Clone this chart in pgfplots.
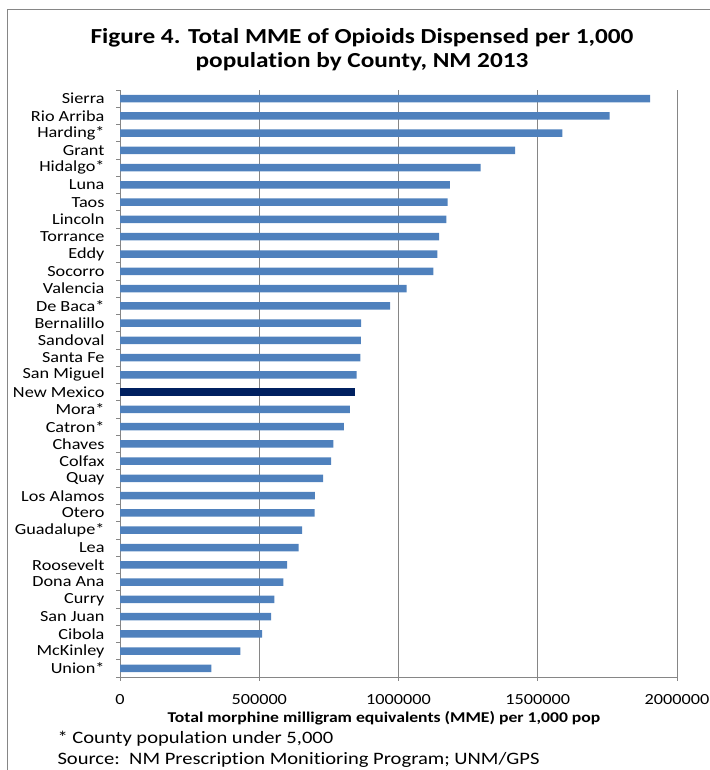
\documentclass[border=0pt]{standalone}
\usepackage{fontspec}
\setmainfont{Carlito}[FakeStretch=1.18, Ligatures={NoCommon}]
\usepackage{pgfplots}
\pgfplotsset{compat=1.18}
\definecolor{barblue}{HTML}{4F81BD}
\definecolor{navy}{HTML}{002060}
\definecolor{gridgray}{HTML}{868686}
\begin{document}
\begin{tikzpicture}[x=1bp,y=1bp]
\path[use as bounding box] (0,0) rectangle (710,770);
\draw[gridgray, line width=0.9bp] (7,0) -- (7,761) -- (710,761);
\node[font=\fontsize{21.5}{23}\bfseries\selectfont] at (362,732) {Figure 4. Total MME of Opioids Dispensed per 1,000};
\node[font=\fontsize{21.5}{23}\bfseries\selectfont] at (362,708) {population by County, NM 2013};
\begin{axis}[
  at={(120bp,93bp)}, anchor=south west,
  width=557bp, height=587bp, scale only axis,
  xmin=0, xmax=2000000, ymin=-0.5, ymax=33.5,
  xbar, bar width=7.5bp,
  axis x line*=bottom, axis y line*=left,
  axis line style={gridgray, line width=0.7bp},
  xmajorgrids, grid style={gridgray, line width=0.7bp},
  xtick={0,500000,1000000,1500000,2000000},
  scaled x ticks=false,
  xticklabel style={/pgf/number format/fixed, /pgf/number format/1000 sep={}, yshift=-10bp},
  /pgf/number format/assume math mode=true,
  ytick={0,...,33},
  yticklabels={Union*,McKinley,Cibola,San Juan,Curry,Dona Ana,Roosevelt,Lea,Guadalupe*,Otero,Los Alamos,Quay,Colfax,Chaves,Catron*,Mora*,New Mexico,San Miguel,Santa Fe,Sandoval,Bernalillo,De Baca*,Valencia,Socorro,Eddy,Torrance,Lincoln,Taos,Luna,Hidalgo*,Grant,Harding*,Rio Arriba,Sierra},
  yticklabel style={xshift=-8bp},
  minor ytick={-0.5,0.5,...,33.5},
  tick align=outside,
  major tick length=4bp, minor tick length=4bp,
  major y tick style={draw=none},
  tick style={gridgray, line width=0.7bp},
  ticklabel style={font=\fontsize{15.5}{15.5}\selectfont},
]
\addplot[fill=barblue, draw=none, bar shift=0pt] coordinates {
(328000,0) (432000,1) (510000,2) (543000,3) (554000,4) (587000,5) (600000,6) (641000,7) (654000,8) (699000,9) (700000,10) (729000,11) (758000,12) (766000,13) (804000,14) (825000,15)
(850000,17) (863000,18) (865000,19) (866000,20) (970000,21) (1029000,22) (1125000,23) (1140000,24) (1146000,25) (1172000,26) (1176000,27) (1184000,28) (1295000,29) (1419000,30) (1588000,31) (1758000,32) (1903000,33)
};
\addplot[fill=navy, draw=none, bar shift=0pt] coordinates {(843000,16)};
\end{axis}
\node[font=\fontsize{15}{15}\bfseries\selectfont] at (384,52) {Total morphine milligram equivalents (MME) per 1,000 pop};
\node[anchor=west, font=\fontsize{17.5}{17.5}\selectfont] at (54,31) {* County population under 5,000};
\node[anchor=west, font=\fontsize{17.5}{17.5}\selectfont] at (54,10) {Source:\ \ NM Prescription Monitioring Program; UNM/GPS};
\end{tikzpicture}
\end{document}
